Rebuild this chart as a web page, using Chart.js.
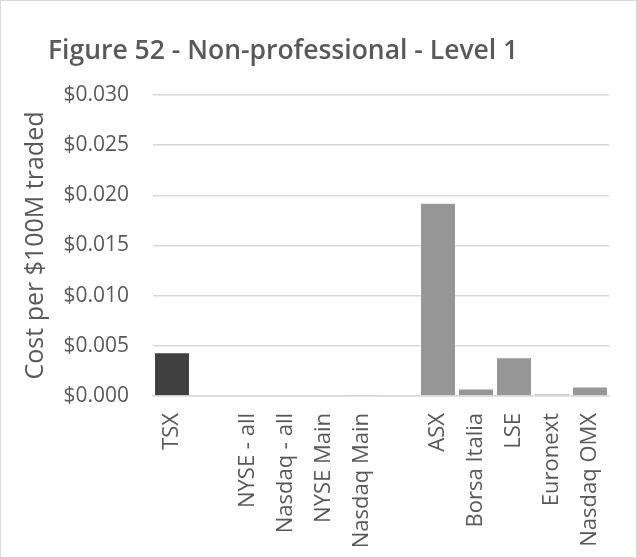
<!DOCTYPE html>
<html>
<head>
<meta charset="utf-8">
<script src="https://cdn.jsdelivr.net/npm/chart.js@4"></script>
<style>
  html, body { margin: 0; padding: 0; background: #fff; }
  #wrap { width: 637px; height: 558px; box-sizing: border-box; border: 1px solid #d9d9d9; }
</style>
</head>
<body>
<div id="wrap"><canvas id="myChart" width="635" height="556"></canvas></div>
<script>
const titulo = 'Figure 52 - Non-professional - Level 1';
const etiquetaY = 'Cost per $100M traded';
// blank slots separate the three groups
const mercados = ['TSX', '', 'NYSE - all', 'Nasdaq - all', 'NYSE Main', 'Nasdaq Main', '', 'ASX', 'Borsa Italia', 'LSE', 'Euronext', 'Nasdaq OMX'];
const costos = [0.0043, null, 0, 0, 0, 0.0001, null, 0.0192, 0.0007, 0.0038, 0.0002, 0.0009];
const colores = ['#404040', '#969696', '#969696', '#969696', '#969696', '#969696', '#969696', '#969696', '#969696', '#969696', '#969696', '#969696'];

// title drawn at a fixed spot, left of the plot like the original
const tituloPlugin = {
    id: 'tituloPlugin',
    afterDraw(chart) {
        const c = chart.ctx;
        c.save();
        c.fillStyle = '#595959';
        c.font = '600 26.5px "Open Sans"';
        c.textBaseline = 'alphabetic';
        c.textAlign = 'left';
        c.fillText(titulo, 47, 58);
        c.restore();
    }
};

const ctx = document.getElementById('myChart');
new Chart(ctx, {
    type: 'bar',
    data: {
        labels: mercados,
        datasets: [{
            label: titulo,
            data: costos,
            backgroundColor: colores,
            borderColor: '#ffffff',
            borderWidth: 0.5,
            barPercentage: 0.92,
            categoryPercentage: 1
        }]
    },
    plugins: [tituloPlugin],
    options: {
        responsive: false,
        animation: false,
        layout: { padding: { left: 20, right: 27, top: 94, bottom: 0 } },
        plugins: {
            legend: { display: false },
            tooltip: { enabled: false },
            title: { display: false }
        },
        scales: {
            y: {
                min: 0,
                max: 0.03,
                afterFit: s => { s.width = 132; },
                ticks: {
                    stepSize: 0.005,
                    color: '#595959',
                    font: { family: 'Open Sans', size: 21 },
                    padding: 24,
                    callback: v => '$' + v.toFixed(3)
                },
                grid: { color: '#d9d9d9', lineWidth: 1.5, drawTicks: false },
                border: { display: false },
                title: {
                    display: true,
                    text: etiquetaY,
                    color: '#595959',
                    font: { family: 'Open Sans', size: 25 },
                    padding: 0
                }
            },
            x: {
                afterFit: s => { s.height = 161; },
                ticks: {
                    color: '#595959',
                    font: { family: 'Open Sans', size: 22 },
                    minRotation: 90,
                    maxRotation: 90,
                    autoSkip: false,
                    padding: 17
                },
                grid: { display: false, drawTicks: false },
                border: { color: '#d9d9d9', width: 1.5 }
            }
        }
    }
});
</script>
</body>
</html>
